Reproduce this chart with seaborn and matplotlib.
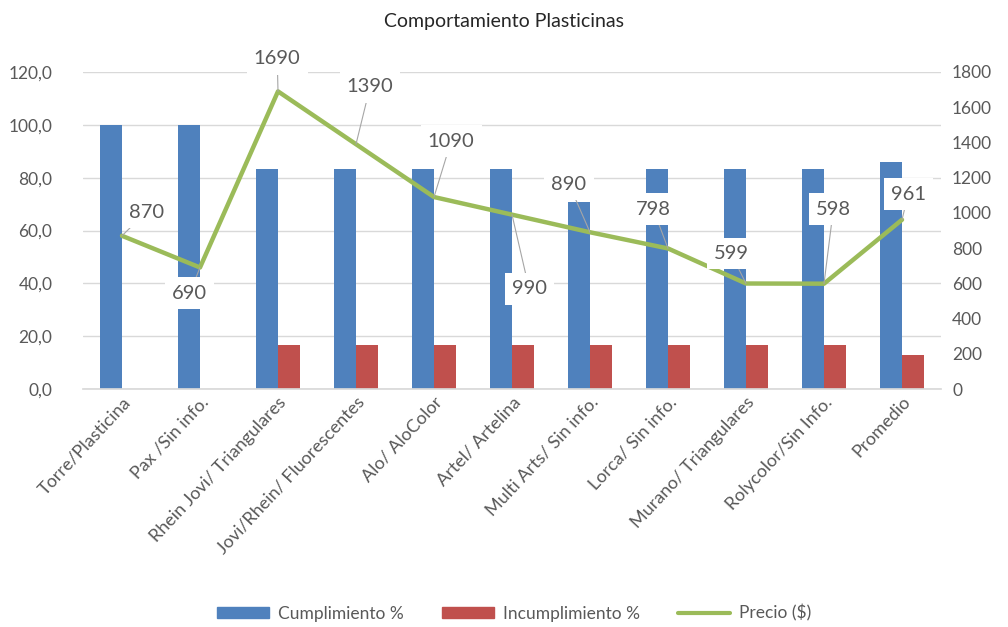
import numpy as np
import pandas as pd
import matplotlib
matplotlib.use("Agg")
from matplotlib import pyplot as plt
from matplotlib.patches import Patch
from matplotlib.lines import Line2D
from matplotlib.ticker import FuncFormatter
import seaborn as sns

# data
marcas = ['Torre/Plasticina', 'Pax /Sin info.', 'Rhein Jovi/ Triangulares',
          'Jovi/Rhein/ Fluorescentes', 'Alo/ AloColor', 'Artel/ Artelina',
          'Multi Arts/ Sin info.', 'Lorca/ Sin info.', 'Murano/ Triangulares',
          'Rolycolor/Sin Info.', 'Promedio']
cumplimiento = [100.0, 100.0, 83.3, 83.3, 83.3, 83.3, 70.6, 83.3, 83.3, 83.3, 86.1]
incumplimiento = [0.0, 0.0, 16.7, 16.7, 16.7, 16.7, 16.7, 16.7, 16.7, 16.7, 12.9]
precio = [870, 690, 1690, 1390, 1090, 990, 890, 798, 599, 598, 961]

# where the data labels sit (category index, price units)
label_pos = [(0.31, 1005), (0.87, 545), (1.99, 1874), (3.18, 1715), (4.22, 1408),
             (5.22, 568), (5.73, 1164), (6.81, 1022), (7.81, 767), (9.12, 1022), (10.08, 1107)]

azul = '#4F81BD'
rojo = '#C0504D'
verde = '#9BBB59'
gris = '#595959'

df = pd.DataFrame({'marca': marcas * 2,
                   'valor': cumplimiento + incumplimiento,
                   'serie': ['Cumplimiento %'] * len(marcas) + ['Incumplimiento %'] * len(marcas)})

sns.set_theme(style="white")
plt.rcParams['font.family'] = ['Lato', 'DejaVu Sans']

fig = plt.figure(figsize=(10.08, 6.27), dpi=100)
ax = fig.add_axes([83 / 1008, 1 - 389 / 627, 858 / 1008, 317 / 627])

sns.barplot(data=df, x='marca', y='valor', hue='serie', palette=[azul, rojo],
            width=0.56, gap=0, saturation=1, ax=ax, legend=False, zorder=2,
            linewidth=0)
ax.set_ylim(0, 120)
ax.set_xlim(-0.5, len(marcas) - 0.5)
ax.set_yticks(np.arange(0, 121, 20))
ax.yaxis.set_major_formatter(FuncFormatter(lambda v, p: f'{v:.1f}'.replace('.', ',')))
ax.grid(axis='y', color='#D9D9D9', linewidth=1, zorder=0)
ax.set_axisbelow(True)
ax.set_xlabel('')
ax.set_ylabel('')
for s in ['top', 'left', 'right']:
    ax.spines[s].set_visible(False)
ax.spines['bottom'].set_color('#D9D9D9')
ax.tick_params(axis='both', length=0, colors=gris, labelsize=12.5)
ax.tick_params(axis='x', labelsize=13)
ax.tick_params(axis='y', pad=22)
ax.set_xticks(range(len(marcas)))
ax.set_xticklabels(marcas, rotation=47, ha='right', rotation_mode='anchor')

ax2 = ax.twinx()
sns.lineplot(x=np.arange(len(marcas)), y=precio, color=verde, linewidth=3.2, ax=ax2, zorder=3)
ax2.set_ylim(0, 1800)
ax2.set_yticks(np.arange(0, 1801, 200))
for s in ['top', 'left', 'right', 'bottom']:
    ax2.spines[s].set_visible(False)
ax2.tick_params(axis='y', length=0, colors=gris, labelsize=12.5, pad=8)
ax2.set_ylabel('')
ax2.set_xlim(-0.5, len(marcas) - 0.5)

for i, (p, (tx, ty)) in enumerate(zip(precio, label_pos)):
    ax2.annotate(str(p), xy=(i, p), xytext=(tx, ty), textcoords='data',
                 ha='center', va='center', fontsize=14.5, color=gris, zorder=5,
                 bbox=dict(boxstyle='square,pad=0.35', fc='white', ec='none'),
                 arrowprops=dict(arrowstyle='-', color='#A6A6A6', lw=0.8,
                                 shrinkA=0, shrinkB=0))

fig.text(0.5, 1 - 22 / 627, 'Comportamiento Plasticinas', ha='center', va='center',
         fontsize=14, color='#262626')

handles = [Patch(color=azul), Patch(color=rojo), Line2D([0], [0], color=verde, lw=3)]
fig.legend(handles, ['Cumplimiento %', 'Incumplimiento %', 'Precio ($)'],
           loc='center', bbox_to_anchor=(0.51, 1 - 613 / 627), ncol=3, frameon=False,
           fontsize=12.5, handlelength=3, handleheight=0.6, handletextpad=0.5,
           columnspacing=2.2, labelcolor=gris)

fig.savefig('out.png', dpi=100)
